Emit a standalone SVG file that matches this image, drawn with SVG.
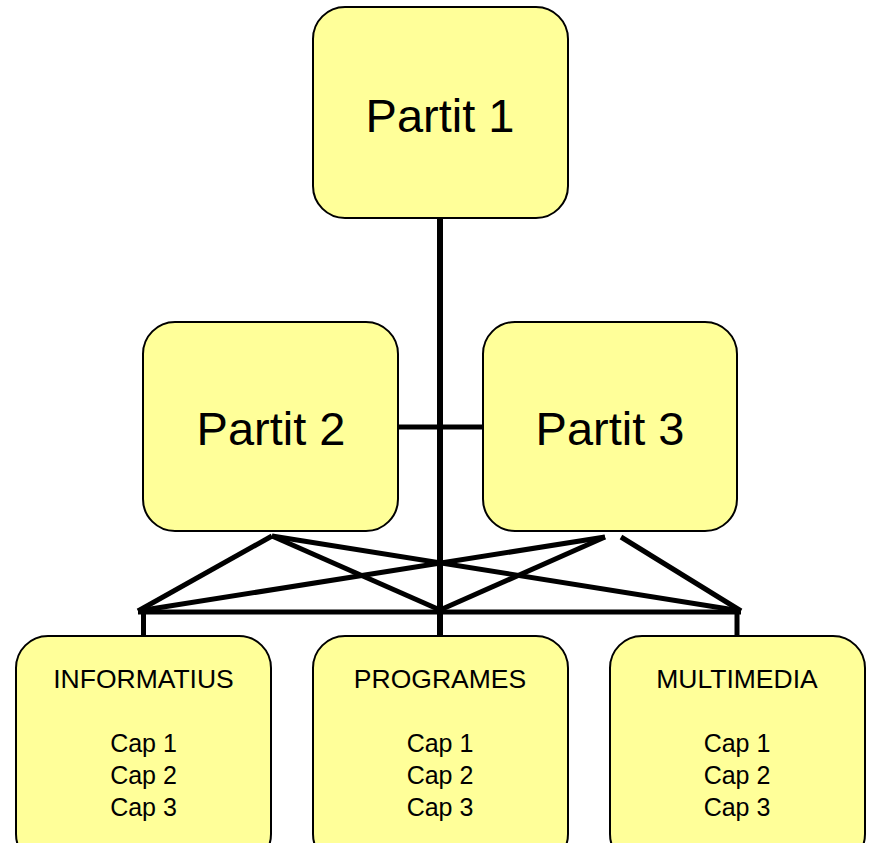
<svg xmlns="http://www.w3.org/2000/svg" width="870" height="843" viewBox="0 0 870 843">
<style>
.box{fill:#FFFF99;stroke:#000;stroke-width:2}
.big{font-family:"Liberation Sans",Arial,sans-serif;font-size:47px;text-anchor:middle;fill:#000}
.sm{font-family:"Liberation Sans",Arial,sans-serif;font-size:25px;text-anchor:middle;fill:#000}
.hd{font-size:26.5px}
.c{stroke:#000;stroke-width:5;fill:none}
</style>
<rect width="870" height="843" fill="#fff"/>
<g id="connectors">
<line class="c" x1="440" y1="218" x2="440" y2="637" style="stroke-width:6"/>
<line class="c" x1="398" y1="427" x2="483" y2="427"/>
<line class="c" x1="138" y1="612" x2="741" y2="612"/>
<line class="c" x1="143.5" y1="612" x2="143.5" y2="637"/>
<line class="c" x1="737" y1="612" x2="737" y2="637"/>
<line class="c" x1="272" y1="536" x2="138" y2="611"/>
<line class="c" x1="272" y1="536" x2="440" y2="610"/>
<line class="c" x1="272" y1="536" x2="741" y2="611"/>
<line class="c" x1="605" y1="537" x2="138" y2="611"/>
<line class="c" x1="605" y1="537" x2="440" y2="610"/>
<line class="c" x1="621" y1="537" x2="741" y2="611"/>
</g>
<g id="partit1">
<rect class="box" x="313" y="7" width="255" height="211" rx="32"/>
<text class="big" x="440" y="132">Partit 1</text>
</g>
<g id="partit2">
<rect class="box" x="143" y="322" width="255" height="209" rx="32"/>
<text class="big" x="271" y="445">Partit 2</text>
</g>
<g id="partit3">
<rect class="box" x="483" y="322" width="254" height="209" rx="32"/>
<text class="big" x="610" y="445">Partit 3</text>
</g>
<g id="informatius">
<rect class="box" x="16" y="636" width="255" height="230" rx="32"/>
<text class="sm hd" x="143.5" y="688">INFORMATIUS</text>
<text class="sm" x="143.5" y="752">Cap 1</text>
<text class="sm" x="143.5" y="784">Cap 2</text>
<text class="sm" x="143.5" y="816">Cap 3</text>
</g>
<g id="programes">
<rect class="box" x="313" y="636" width="255" height="230" rx="32"/>
<text class="sm hd" x="440" y="688">PROGRAMES</text>
<text class="sm" x="440" y="752">Cap 1</text>
<text class="sm" x="440" y="784">Cap 2</text>
<text class="sm" x="440" y="816">Cap 3</text>
</g>
<g id="multimedia">
<rect class="box" x="610" y="636" width="255" height="230" rx="32"/>
<text class="sm hd" x="737" y="688">MULTIMEDIA</text>
<text class="sm" x="737" y="752">Cap 1</text>
<text class="sm" x="737" y="784">Cap 2</text>
<text class="sm" x="737" y="816">Cap 3</text>
</g>
</svg>
